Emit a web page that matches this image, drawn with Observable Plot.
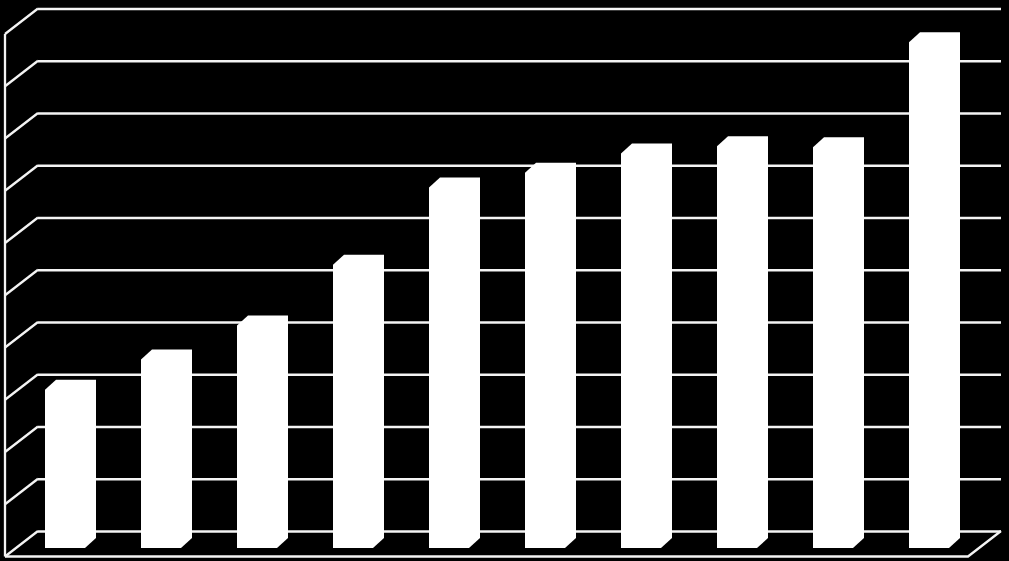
<!DOCTYPE html>
<html>
<head>
<meta charset="utf-8">
<script src="https://cdn.jsdelivr.net/npm/d3@7"></script>
<script src="https://cdn.jsdelivr.net/npm/@observablehq/plot@0.6"></script>
<style>
  html, body { margin: 0; padding: 0; background: #000; }
  #chart svg { display: block; }
</style>
</head>
<body>
<div id="chart"></div>
<script>
// Data (hidden value axis 0–100)
const categories = ["1", "2", "3", "4", "5", "6", "7", "8", "9", "10"];
const values = [30.3, 36.1, 42.6, 54.2, 69.0, 71.8, 75.5, 76.9, 76.7, 96.8];
const gridTicks = [0, 10, 20, 30, 40, 50, 60, 70, 80, 90, 100];

const data = categories.map((c, i) => ({cat: c, value: values[i]}));

// 3D offsets (pixels)
const WALL = {dx: -33, dy: 25.5};   // back wall -> front of floor
const BACK = {dx: -12, dy: 7};      // back wall -> bar back face
const FRONT = {dx: -23, dy: 17};    // back wall -> bar front face
const LINE = "#f4f4f4";
const LW = 2.3;

function wallMark(index, scales, values, dimensions) {
  const {width, marginLeft, marginRight} = dimensions;
  const y = scales.y;
  const xl = marginLeft, xr = width - marginRight;
  const g = d3.create("svg:g")
    .attr("fill", "none")
    .attr("stroke", LINE)
    .attr("stroke-width", LW);
  for (const v of gridTicks) {
    g.append("line")
      .attr("x1", xl).attr("y1", y(v))
      .attr("x2", xl + WALL.dx).attr("y2", y(v) + WALL.dy);
  }
  const top = d3.max(gridTicks), bot = d3.min(gridTicks);
  g.append("line")
    .attr("x1", xl + WALL.dx).attr("y1", y(top) + WALL.dy)
    .attr("x2", xl + WALL.dx).attr("y2", y(bot) + WALL.dy);
  g.append("path")
    .attr("d", `M${xl + WALL.dx},${y(bot) + WALL.dy}L${xr + WALL.dx},${y(bot) + WALL.dy}L${xr},${y(bot)}`);
  return g.node();
}

function barRender(index, scales, values, dimensions) {
  const x = scales.x, y = scales.y;
  const bw = x.bandwidth();
  const g = d3.create("svg:g").attr("fill", "#fff").attr("stroke", "none");
  for (const i of index) {
    const d = data[i];
    const x1 = x(d.cat), x2 = x1 + bw;
    const yt = y(d.value), y0 = y(0);
    const pts = [
      [x1 + FRONT.dx, y0 + FRONT.dy],
      [x2 + FRONT.dx, y0 + FRONT.dy],
      [x2 + BACK.dx, y0 + BACK.dy],
      [x2 + BACK.dx, yt + BACK.dy],
      [x1 + BACK.dx, yt + BACK.dy],
      [x1 + FRONT.dx, yt + FRONT.dy]
    ];
    g.append("path").attr("d", "M" + pts.map(p => p.join(",")).join("L") + "Z");
  }
  return g.node();
}

const chart = Plot.plot({
  width: 1009,
  height: 561,
  marginLeft: 38,
  marginRight: 8,
  marginTop: 8.5,
  marginBottom: 30,
  style: {background: "#000", color: "#fff"},
  x: {type: "band", domain: categories, paddingInner: 0.585, paddingOuter: 0.2925, axis: null},
  y: {domain: [0, 100], axis: null},
  marks: [
    Plot.ruleY(gridTicks, {stroke: LINE, strokeWidth: LW, strokeOpacity: 1}),
    wallMark,
    Plot.barY(data, {x: "cat", y: "value", fill: "#fff", render: barRender})
  ]
});
document.getElementById("chart").appendChild(chart);
</script>
</body>
</html>
